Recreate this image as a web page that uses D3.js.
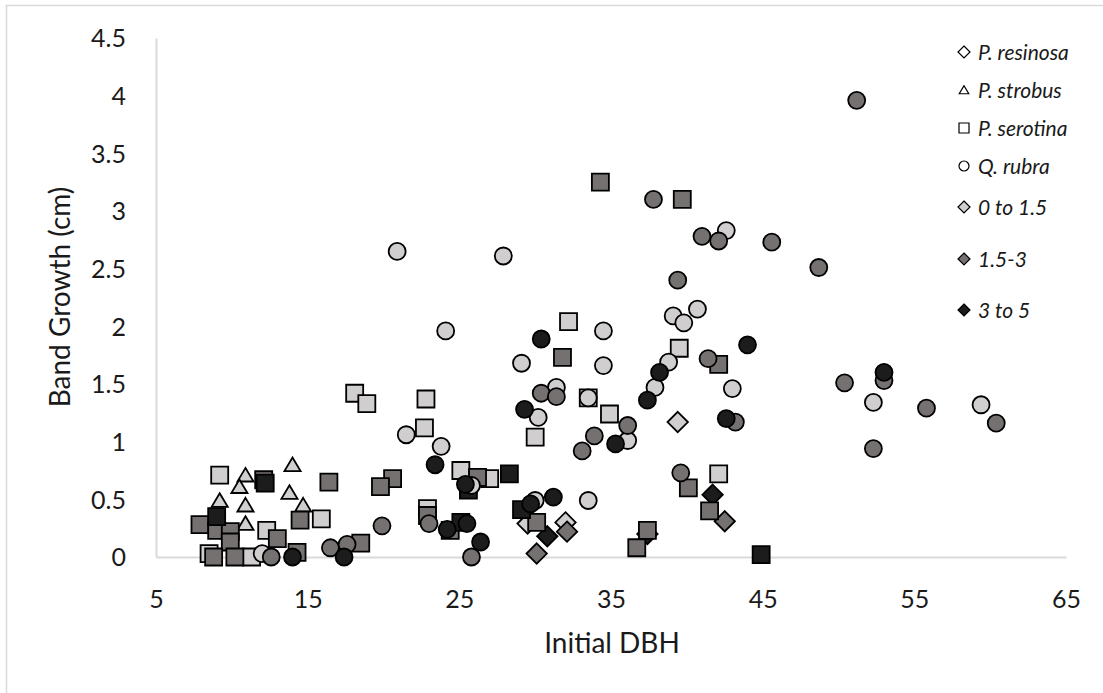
<!DOCTYPE html>
<html>
<head>
<meta charset="utf-8">
<script src="https://cdn.jsdelivr.net/npm/d3@7"></script>
<style>
  body { margin: 0; background: #fff; }
  svg { display: block; font-family: Lato, "Open Sans", sans-serif; }
</style>
</head>
<body>
<div id="chart"></div>
<script>
// data: [initial DBH, band growth] per species and growth class
var species = ["P. resinosa", "P. strobus", "P. serotina", "Q. rubra"];
var classes = ["0 to 1.5", "1.5-3", "3 to 5"];
var xTicks = [5, 15, 25, 35, 45, 55, 65];
var yTicks = [0, 0.5, 1, 1.5, 2, 2.5, 3, 3.5, 4, 4.5];

var resinosaLow = [[39.4, 1.17], [29.5, 0.29], [32.0, 0.30]];
var resinosaMid = [[32.1, 0.22], [30.1, 0.03], [42.5, 0.31]];
var resinosaHigh = [[30.8, 0.18], [41.7, 0.54], [37.4, 0.20]];

var strobusLow = [[10.9, 0.71], [10.5, 0.61], [9.2, 0.49], [10.9, 0.45], [10.9, 0.29],
  [14.0, 0.80], [13.8, 0.56], [14.7, 0.45]];

var serotinaLow = [[9.2, 0.71], [18.1, 1.42], [18.9, 1.33], [15.9, 0.33], [12.3, 0.23],
  [8.5, 0.03], [11.3, 0.0], [32.2, 2.04], [39.5, 1.81], [22.8, 1.37], [22.7, 1.12],
  [34.9, 1.24], [30.0, 1.04], [33.5, 1.38], [42.1, 0.72], [25.1, 0.75], [27.0, 0.68],
  [22.9, 0.42]];
var serotinaMid = [[34.3, 3.25], [39.7, 3.10], [31.8, 1.73], [42.1, 1.67], [20.6, 0.68],
  [19.8, 0.61], [16.4, 0.65], [14.5, 0.32], [18.5, 0.12], [14.3, 0.04], [13.0, 0.16],
  [12.1, 0.67], [7.9, 0.28], [9.0, 0.23], [9.9, 0.22], [9.9, 0.13], [8.8, 0.0],
  [10.2, 0.0], [26.2, 0.69], [22.9, 0.36], [30.1, 0.30], [40.1, 0.60], [41.5, 0.40],
  [37.4, 0.23], [36.7, 0.08], [24.4, 0.23]];
var serotinaHigh = [[28.3, 0.72], [44.9, 0.02], [25.6, 0.58], [29.1, 0.41], [25.1, 0.30],
  [9.0, 0.35], [12.2, 0.64]];

var rubraLow = [[20.9, 2.65], [27.9, 2.61], [24.1, 1.96], [34.5, 1.96], [42.6, 2.83],
  [39.1, 2.09], [39.8, 2.03], [40.7, 2.15], [29.1, 1.68], [34.5, 1.66], [31.4, 1.47],
  [38.8, 1.69], [37.9, 1.47], [43.0, 1.46], [30.2, 1.21], [33.5, 1.38], [36.1, 1.01],
  [21.5, 1.06], [23.8, 0.96], [30.0, 0.49], [33.5, 0.49], [25.8, 0.62], [52.3, 1.34],
  [59.4, 1.32], [12.0, 0.03]];
var rubraMid = [[51.2, 3.96], [37.8, 3.10], [41.0, 2.78], [42.1, 2.74], [45.6, 2.73],
  [48.7, 2.51], [39.4, 2.40], [41.4, 1.72], [30.4, 1.42], [31.4, 1.39], [36.1, 1.14],
  [33.9, 1.05], [33.1, 0.92], [43.2, 1.17], [50.4, 1.51], [53.0, 1.53], [52.3, 0.94],
  [55.8, 1.29], [60.4, 1.16], [39.6, 0.73], [19.9, 0.27], [23.0, 0.29], [25.8, 0.0],
  [16.5, 0.08], [17.6, 0.11], [12.6, 0.0]];
var rubraHigh = [[14.0, 0.0], [17.4, 0.0], [30.4, 1.89], [44.0, 1.84], [38.2, 1.60],
  [37.4, 1.36], [29.3, 1.28], [35.3, 0.98], [42.6, 1.20], [53.0, 1.60], [23.4, 0.80],
  [25.4, 0.63], [31.2, 0.52], [29.7, 0.46], [24.2, 0.24], [25.5, 0.29], [26.4, 0.13]];

var width = 1103, height = 693;
var fills = ["#d0cece", "#767171", "#1c1c1c"];

// draw order: diamonds, triangles, squares, circles
var series = [
  { shape: "diamond", cls: 0, data: resinosaLow },
  { shape: "diamond", cls: 1, data: resinosaMid },
  { shape: "diamond", cls: 2, data: resinosaHigh },
  { shape: "triangle", cls: 0, data: strobusLow },
  { shape: "square", cls: 0, data: serotinaLow },
  { shape: "square", cls: 1, data: serotinaMid },
  { shape: "square", cls: 2, data: serotinaHigh },
  { shape: "circle", cls: 0, data: rubraLow },
  { shape: "circle", cls: 1, data: rubraMid },
  { shape: "circle", cls: 2, data: rubraHigh }
];

function shapePath(shape, s) {
  // s = nominal marker size in px
  var h = s / 2;
  if (shape === "circle") {
    var p = d3.path(); p.arc(0, 0, h, 0, 2 * Math.PI); return p.toString();
  }
  if (shape === "square") return "M" + (-h) + "," + (-h) + "H" + h + "V" + h + "H" + (-h) + "Z";
  if (shape === "diamond") {
    var d = h * 1.2;
    return "M0," + (-d) + "L" + d + ",0L0," + d + "L" + (-d) + ",0Z";
  }
  // triangle
  return "M0," + (-h * 0.85) + "L" + (h * 0.95) + "," + (h * 0.75) + "L" + (-h * 0.95) + "," + (h * 0.75) + "Z";
}

var svg = d3.select("#chart").append("svg")
  .attr("width", width).attr("height", height);

svg.append("rect").attr("x", 6.5).attr("y", 5.5).attr("width", 1110).attr("height", 700)
  .attr("fill", "none").attr("stroke", "#d9d9d9").attr("stroke-width", 1.5);

var x = d3.scaleLinear().domain([5, 65]).range([156, 1066]);
var y = d3.scaleLinear().domain([0, 4.5]).range([557, 38]);

// axes
var xAxis = svg.append("g").attr("transform", "translate(0,557)")
  .call(d3.axisBottom(x).tickValues(xTicks).tickSize(0).tickPadding(0).tickFormat(d3.format("d")));
xAxis.select(".domain").attr("stroke", "#d9d9d9").attr("stroke-width", 2);
xAxis.selectAll("text").attr("font-size", 25).attr("fill", "#1a1a1a")
  .attr("font-family", "Lato, sans-serif").attr("dy", null).attr("y", 51);

var yAxis = svg.append("g").attr("transform", "translate(156,0)")
  .call(d3.axisLeft(y).tickValues(yTicks).tickSize(0).tickPadding(0).tickFormat(d3.format("")));
yAxis.select(".domain").attr("stroke", "#d9d9d9").attr("stroke-width", 2);
yAxis.selectAll("text").attr("font-size", 25).attr("fill", "#1a1a1a")
  .attr("font-family", "Lato, sans-serif").attr("x", -30).attr("dy", "0.35em");

svg.append("text").attr("x", 612).attr("y", 653).attr("text-anchor", "middle")
  .attr("font-size", 28).attr("fill", "#1a1a1a").text("Initial DBH");
svg.append("text").attr("transform", "translate(70,297) rotate(-90)").attr("text-anchor", "middle")
  .attr("font-size", 28).attr("fill", "#1a1a1a").text("Band Growth (cm)");

// points
var marks = svg.append("g");
series.forEach(function (s) {
  marks.append("g").selectAll("path").data(s.data).join("path")
    .attr("d", shapePath(s.shape, 17))
    .attr("transform", function (d) { return "translate(" + x(d[0]) + "," + y(d[1]) + ")"; })
    .attr("fill", fills[s.cls])
    .attr("stroke", "#000").attr("stroke-width", 1.8);
});

// legend
var legendRows = [
  { label: species[0], shape: "diamond", fill: "#fff", y: 52 },
  { label: species[1], shape: "triangle", fill: "#fff", y: 90 },
  { label: species[2], shape: "square", fill: "#fff", y: 128 },
  { label: species[3], shape: "circle", fill: "#fff", y: 166 },
  { label: classes[0], shape: "diamond", fill: fills[0], y: 207 },
  { label: classes[1], shape: "diamond", fill: fills[1], y: 259 },
  { label: classes[2], shape: "diamond", fill: fills[2], y: 310 }
];
var legend = svg.append("g");
legendRows.forEach(function (r) {
  legend.append("path").attr("d", shapePath(r.shape, 10))
    .attr("transform", "translate(964," + r.y + ")")
    .attr("fill", r.fill).attr("stroke", "#000").attr("stroke-width", 1.2);
  legend.append("text").attr("x", 978).attr("y", r.y + 8)
    .attr("font-size", 21).attr("font-style", "italic").attr("fill", "#1a1a1a").text(r.label);
});
</script>
</body>
</html>
